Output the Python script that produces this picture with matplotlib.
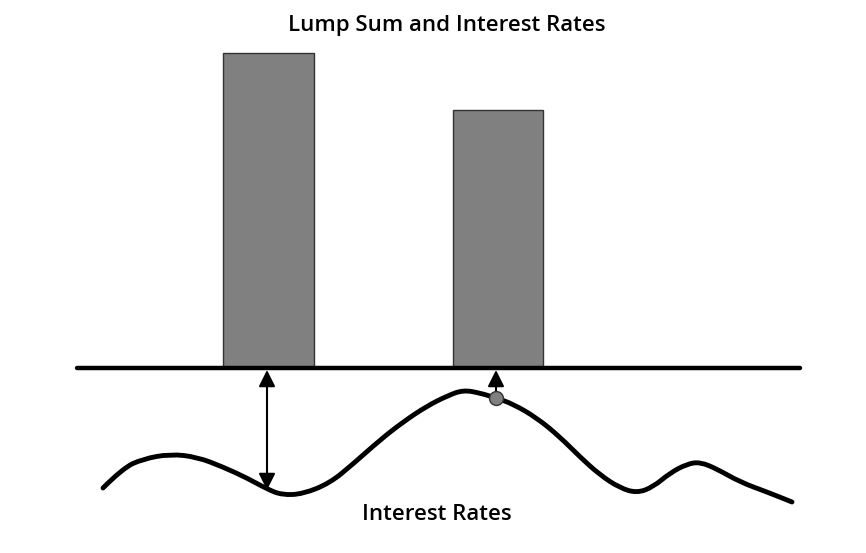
import matplotlib
matplotlib.use('Agg')
import matplotlib.pyplot as plt
from matplotlib.path import Path
from matplotlib.patches import PathPatch

# everything is in pixel units of the original picture (y grows downwards)
baseline_y = 368
baseline_x = [77, 800]

bar_left = [223, 453]
bar_right = [314, 543]
bar_top = [53, 110]

# control points of the interest-rate curve
curve_x = [103, 123, 143, 170, 197, 223, 247, 267, 282, 303, 330, 353,
           380, 403, 427, 447, 463, 480, 496, 513, 537, 560, 580, 600, 620,
           637, 653, 670, 687, 700, 717, 740, 767, 792]
curve_y = [488, 468, 459, 454, 457, 467, 478, 489, 495, 494, 483, 464,
           440, 422, 406, 396, 390, 393, 398, 404, 418, 437, 457, 475, 488,
           493, 487, 473, 464, 462, 469, 482, 492, 502]

arrow1 = (267, 490, 370)   # x, curve end, baseline end
arrow2 = (496, 392, 370)
dot = (496, 398)

title = "Lump Sum and Interest Rates"
curve_label = "Interest Rates"

fig = plt.figure(figsize=(8.66, 5.53), dpi=100)
ax = fig.add_axes([0, 0, 1, 1])
ax.set_xlim(0, 866)
ax.set_ylim(553, 0)
ax.axis('off')

widths = [r - l for l, r in zip(bar_left, bar_right)]
heights = [baseline_y - t for t in bar_top]
ax.bar(bar_left, heights, width=widths, bottom=bar_top, align='edge',
       color='#808080', edgecolor='#333333', linewidth=1, zorder=2)

ax.plot(baseline_x, [baseline_y, baseline_y], color='black', lw=3.2,
        solid_capstyle='round', zorder=3)

# smooth curve: quadratic bezier pieces through midpoints of the points
pts = list(zip(curve_x, curve_y))
verts = [pts[0]]
codes = [Path.MOVETO]
for i in range(1, len(pts) - 1):
    mid = ((pts[i][0] + pts[i + 1][0]) / 2, (pts[i][1] + pts[i + 1][1]) / 2)
    verts += [pts[i], mid]
    codes += [Path.CURVE3, Path.CURVE3]
verts.append(pts[-1])
codes.append(Path.LINETO)
ax.add_patch(PathPatch(Path(verts, codes), facecolor='none', edgecolor='black',
                       lw=3.5, capstyle='round', joinstyle='round', zorder=3))

ax.annotate('', xy=(arrow1[0], arrow1[2]), xytext=(arrow1[0], arrow1[1]),
            arrowprops=dict(arrowstyle='<|-|>,head_length=1.0,head_width=0.5',
                            color='black', lw=1.5, shrinkA=0, shrinkB=0),
            zorder=4)
ax.annotate('', xy=(arrow2[0], arrow2[2]), xytext=(arrow2[0], arrow2[1]),
            arrowprops=dict(arrowstyle='-|>,head_length=1.0,head_width=0.5',
                            color='black', lw=1.5, shrinkA=0, shrinkB=0),
            zorder=4)

ax.plot([dot[0]], [dot[1]], 'o', markersize=10, markerfacecolor='#808080',
        markeredgecolor='#333333', markeredgewidth=1, zorder=5)

ax.text(447, 26, title, ha='center', va='center', fontsize=16,
        family='Open Sans', weight='semibold')
ax.text(437, 515, curve_label, ha='center', va='center', fontsize=16,
        family='Open Sans', weight='semibold')

fig.savefig('out.png', dpi=100)
